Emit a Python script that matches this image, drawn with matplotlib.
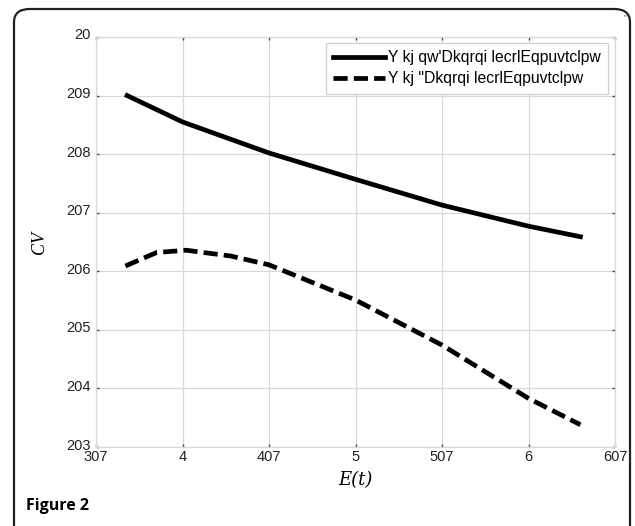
import matplotlib
matplotlib.use("Agg")
import matplotlib.pyplot as plt
import matplotlib.transforms as mtransforms
from matplotlib.patches import FancyBboxPatch

# values
x_solid = [3.68, 4.0, 4.5, 5.0, 5.5, 6.0, 6.3]
y_solid = [0.900, 0.855, 0.802, 0.757, 0.713, 0.677, 0.659]

x_dash = [3.67, 3.85, 4.02, 4.28, 4.5, 5.0, 5.5, 6.0, 6.3]
y_dash = [0.609, 0.632, 0.636, 0.626, 0.611, 0.551, 0.474, 0.383, 0.338]

label_solid = "Y kj qw'Dkqrqi lecrlEqpuvtclpw"
label_dash = 'Y kj "Dkqrqi lecrlEqpuvtclpw'

xticks = [3.5, 4.0, 4.5, 5.0, 5.5, 6.0, 6.5]
xtick_labels = ["307", "4", "407", "5", "507", "6", "607"]
yticks = [0.3, 0.4, 0.5, 0.6, 0.7, 0.8, 0.9, 1.0]
ytick_labels = ["203", "204", "205", "206", "207", "208", "209", "20"]

plt.rcParams['font.family'] = ['Liberation Sans', 'DejaVu Sans']

fig = plt.figure(figsize=(6.35, 5.26), dpi=100)

# rounded frame around the whole figure
frame = FancyBboxPatch((14 / 635, -0.05), 616 / 635, 1 - 9 / 526 + 0.05,
                       boxstyle="round,pad=0,rounding_size=0.025",
                       transform=fig.transFigure, fill=False,
                       edgecolor="#222222", linewidth=1.6, clip_on=False)
fig.patches.append(frame)

ax = fig.add_axes([96 / 635, 1 - 447 / 526, 519 / 635, 410 / 526])

ax.plot(x_solid, y_solid, color="black", linewidth=3.4, label=label_solid)
ax.plot(x_dash, y_dash, color="black", linewidth=3.4, dashes=(3, 1.3), label=label_dash)

ax.set_xlim(3.5, 6.5)
ax.set_ylim(0.3, 1.0)
ax.set_xticks(xticks)
ax.set_xticklabels(xtick_labels)
ax.set_yticks(yticks)
ax.set_yticklabels(ytick_labels)

ax.grid(True, color="#d8d8d8", linewidth=0.9)
for s in ax.spines.values():
    s.set_color("#d8d8d8")
    s.set_linewidth(0.9)
ax.tick_params(direction="in", length=2, width=1, color="#444444",
               top=True, right=True, labelsize=10.5, pad=2, labelcolor="#222222")
ax.tick_params(axis="y", pad=4)

# y tick labels sit a little above their grid lines
shift = mtransforms.ScaledTranslation(0, 3 / 100, fig.dpi_scale_trans)
for lab in ax.get_yticklabels():
    lab.set_transform(lab.get_transform() + shift)

ax.set_ylabel("CV", family="Liberation Serif", style="italic", fontsize=13, labelpad=13)
ax.set_xlabel("E(t)", family="DejaVu Serif", style="italic", fontsize=13, labelpad=5)

leg = ax.legend(loc="upper right", bbox_to_anchor=(0.9865, 0.985), borderaxespad=0,
                fancybox=False, edgecolor="#d0d0d0", framealpha=1, fontsize=11.3,
                handlelength=3.3, handletextpad=0.2, labelspacing=0.4,
                borderpad=0.45)
leg.get_frame().set_linewidth(0.9)

fig.text(625 / 635, 1 - 18 / 526, '"', fontsize=6, color="#444444", ha="center", va="center")

fig.text(26 / 635, 1 - 506 / 526, "Figure 2", family="Open Sans", weight="bold",
         fontsize=11.5, ha="left", va="center")

fig.savefig("out.png", dpi=100)
